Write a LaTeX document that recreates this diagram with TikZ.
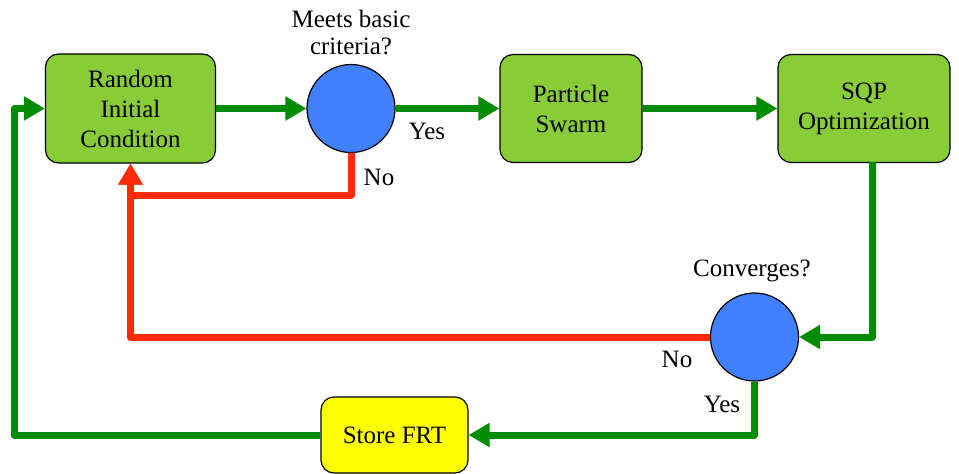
\documentclass[tikz,border=0pt]{standalone}
\usepackage{fontspec}
\setmainfont{Liberation Serif}
\usetikzlibrary{arrows.meta}
\definecolor{boxgreen}{HTML}{88CC38}
\definecolor{flowgreen}{HTML}{008C00}
\definecolor{flowred}{HTML}{FF2A00}
\definecolor{decblue}{HTML}{4080FF}
\definecolor{storeyellow}{HTML}{FFFF00}
\begin{document}
\begin{tikzpicture}[x=1pt,y=-1pt,
  font=\fontsize{25}{30}\selectfont,
  stagebox/.style={draw=black,line width=1.2pt,rounded corners=13pt,align=center,inner sep=0pt},
  decision/.style={circle,draw=black,line width=1.2pt,fill=decblue,minimum size=88pt,inner sep=0pt},
  flow/.style={line width=7pt,line join=round,-{Triangle[length=21pt,width=23pt]}},
  lbl/.style={inner sep=0pt,align=center}]
\useasboundingbox (0,0) rectangle (959,474);

% process boxes
\node[stagebox,fill=boxgreen,minimum width=170pt,minimum height=109pt] (init) at (130.5,108.5) {Random\\Initial\\Condition};
\node[stagebox,fill=boxgreen,minimum width=142pt,minimum height=108pt] (pso) at (571,108.5) {Particle\\Swarm};
\node[stagebox,fill=boxgreen,minimum width=172pt,minimum height=108pt] (sqp) at (864,108.5) {SQP\\Optimization};
\node[stagebox,fill=storeyellow,minimum width=147pt,minimum height=76pt] (store) at (394.5,435) {Store FRT};

% decisions
\node[decision] (crit) at (351,108.5) {};
\node[decision] (conv) at (754.5,337) {};

% labels
\node[lbl,font=\fontsize{25}{27}\selectfont] (critlbl) at (351,33) {Meets basic\\criteria?};
\node[lbl] (convlbl) at (752,271) {Converges?};
\node[lbl] (yes1) at (427,131) {Yes};
\node[lbl] (no1) at (379,177) {No};
\node[lbl] (no2) at (677,359) {No};
\node[lbl] (yes2) at (722,404) {Yes};

% corner points of the routed connectors
\coordinate (loopL) at (14,435);
\coordinate (sqpdrop) at (872,162);
\coordinate (rejA) at (351,195);

% rejected samples go back to a new initial condition
\draw[flow,draw=flowred,flowred] (crit.south) -- (rejA) -| (init.south);
\draw[flow,draw=flowred,flowred] (conv.west) -| (init.south);

% main forward flow
\draw[flow,draw=flowgreen,flowgreen] (init.east) -- (crit.west);
\draw[flow,draw=flowgreen,flowgreen] (crit.east) -- (pso.west);
\draw[flow,draw=flowgreen,flowgreen] (pso.east) -- (sqp.west);
\draw[flow,draw=flowgreen,flowgreen] (sqpdrop) |- (conv.east);
\draw[flow,draw=flowgreen,flowgreen] (conv.south) |- (store.east);
\draw[flow,draw=flowgreen,flowgreen] (store.west) -- (loopL) |- (init.west);
\end{tikzpicture}
\end{document}
